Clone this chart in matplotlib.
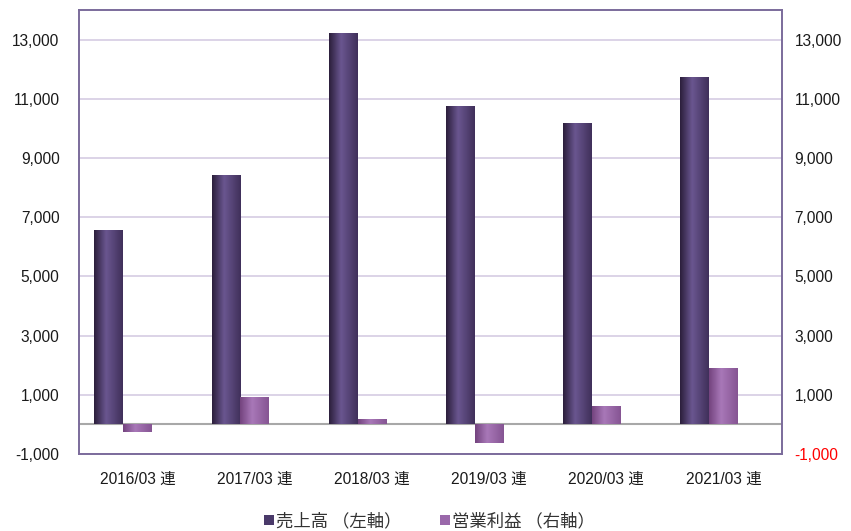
import matplotlib
matplotlib.use("Agg")
import matplotlib.pyplot as plt
import numpy as np
from matplotlib.colors import LinearSegmentedColormap
from matplotlib.patches import Patch

plt.rcParams['font.family'] = ['Liberation Sans', 'Noto Sans CJK JP', 'DejaVu Sans']

categories = ["2016/03 連", "2017/03 連", "2018/03 連", "2019/03 連", "2020/03 連", "2021/03 連"]
sales = [6550, 8400, 13200, 10730, 10150, 11700]
op_profit = [-260, 900, 150, -620, 590, 1880]
tick_values = [-1000, 1000, 3000, 5000, 7000, 9000, 11000, 13000]
tick_labels = ["-1,000", "1,000", "3,000", "5,000", "7,000", "9,000", "11,000", "13,000"]
legend_labels = ["売上高 （左軸）", "営業利益 （右軸）"]

fig = plt.figure(figsize=(8.51, 5.31), dpi=100)
ax = fig.add_axes([0.0928, 0.145, 0.826, 0.836])
ax2 = ax.twinx()

ymin, ymax = -1000, 14000
x = np.arange(len(categories)) + 0.5
w = 0.245

cmap_sales = LinearSegmentedColormap.from_list("s", [(0, "#2c1f3c"), (0.42, "#6a5690"), (1, "#40305a")])
cmap_prof = LinearSegmentedColormap.from_list("p", [(0, "#74447f"), (0.42, "#a878b8"), (1, "#865593")])
grad = np.linspace(0, 1, 64).reshape(1, -1)

bars_s = ax.bar(x - w, sales, width=w, color="none", zorder=3)
bars_p = ax2.bar(x, op_profit, width=w, color="none", zorder=3)

for a, bars, cm in [(ax, bars_s, cmap_sales), (ax2, bars_p, cmap_prof)]:
    for b in bars:
        x0 = b.get_x(); x1 = x0 + b.get_width()
        y0 = b.get_y(); y1 = y0 + b.get_height()
        a.imshow(grad, cmap=cm, extent=(x0, x1, min(y0, y1), max(y0, y1)),
                 aspect='auto', zorder=3, interpolation='bilinear')

for a in (ax, ax2):
    a.set_xlim(0, len(categories))
    a.set_ylim(ymin, ymax)
    a.set_yticks(tick_values)
    a.set_yticklabels(tick_labels, fontsize=11.2, color="#1a1a1a")
    a.tick_params(axis='both', length=0)
    for s in a.spines.values():
        s.set_color("#7b6b9b")
        s.set_linewidth(1.2)

ax.tick_params(axis='y', pad=14)
ax2.get_yticklabels()[0].set_color("#ff0000")
ax2.tick_params(axis='y', pad=9)

ax.set_xticks(x)
ax.set_xticklabels(categories, fontsize=11.2, color="#1a1a1a",
                   family=['Liberation Sans', 'Noto Sans CJK JP'])
ax.tick_params(axis='x', pad=13)

for t in tick_values:
    ax.axhline(t, color="#d5cce3", linewidth=1.2, zorder=1)
ax.axhline(0, color="#a8a8a8", linewidth=1.5, zorder=2)

handles = [Patch(facecolor="#4a3a6a", edgecolor="none"), Patch(facecolor="#9a68aa", edgecolor="none")]
fig.legend(handles, legend_labels, loc="center", bbox_to_anchor=(0.505, 0.019), ncol=2, frameon=False,
           prop={'family': ['Noto Sans CJK JP'], 'size': 12.5}, handlelength=0.55, handleheight=0.55,
           handletextpad=0.15, columnspacing=2.2, labelcolor="#333333")

fig.savefig("out.png", dpi=100)
